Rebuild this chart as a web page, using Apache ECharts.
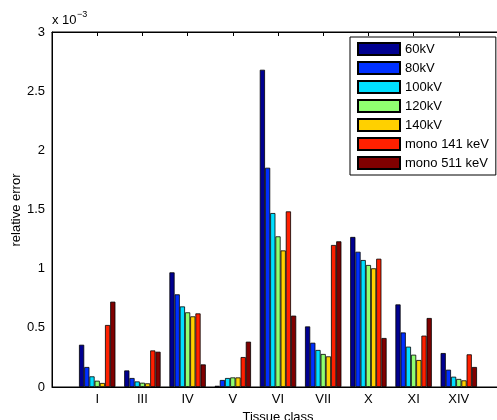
<!DOCTYPE html>
<html>
<head>
<meta charset="utf-8">
<script src="https://cdn.jsdelivr.net/npm/echarts@6/dist/echarts.min.js"></script>
<style>
  html, body { margin: 0; padding: 0; background: #fff; }
  #chart { width: 497px; height: 420px; }
</style>
</head>
<body>
<div id="chart"></div>
<script>
// tissue classes on the x axis
const categories = ['I', 'III', 'IV', 'V', 'VI', 'VII', 'X', 'XI', 'XIV'];

// relative error, in units of 1e-3
const kv60    = [0.357, 0.140, 0.969, 0.010, 2.681, 0.512, 1.268, 0.698, 0.287];
const kv80    = [0.169, 0.076, 0.783, 0.059, 1.853, 0.374, 1.143, 0.461, 0.146];
const kv100   = [0.090, 0.047, 0.681, 0.076, 1.470, 0.313, 1.073, 0.341, 0.087];
const kv120   = [0.053, 0.036, 0.631, 0.081, 1.273, 0.279, 1.031, 0.273, 0.068];
const kv140   = [0.034, 0.031, 0.597, 0.081, 1.154, 0.259, 1.003, 0.228, 0.056];
const mono141 = [0.524, 0.309, 0.622, 0.253, 1.484, 1.200, 1.084, 0.434, 0.276];
const mono511 = [0.721, 0.298, 0.191, 0.383, 0.603, 1.231, 0.414, 0.583, 0.169];

const seriesNames = ['60kV', '80kV', '100kV', '120kV', '140kV', 'mono 141 keV', 'mono 511 keV'];
const seriesData = [kv60, kv80, kv100, kv120, kv140, mono141, mono511];
const colors = ['#000090', '#0030ff', '#00dfff', '#90ff70', '#ffd000', '#ff2000', '#800000'];

const yTicks = [0, 0.5, 1, 1.5, 2, 2.5, 3];

const font = 'Liberation Sans, Arial, Helvetica, sans-serif';

// pad the axis with empty slots so the range runs 0..10 like the original
const axisData = [''].concat(categories, ['']);

var chart = echarts.init(document.getElementById('chart'));

var series = [];
for (var i = 0; i < seriesNames.length; i++) {
  series.push({
    name: seriesNames[i],
    type: 'bar',
    barWidth: 5.2,
    barGap: '0%',
    data: [null].concat(seriesData[i], [null]),
    itemStyle: { color: colors[i], borderColor: '#000', borderWidth: 0.8 }
  });
}

var tickFilter = function (idx) { return idx > 0 && idx < axisData.length - 1; };

var option = {
  animation: false,
  textStyle: { fontFamily: font },
  grid: {
    left: 52, top: 32, width: 452, height: 355,
    outerBoundsMode: 'none',
    containLabel: false,
    show: true, borderColor: '#000', borderWidth: 1, backgroundColor: '#fff'
  },
  legend: {
    orient: 'vertical',
    left: 350, top: 37,
    padding: [5, 7, 5, 7],
    itemWidth: 42, itemHeight: 12, itemGap: 5,
    borderColor: '#000', borderWidth: 1, backgroundColor: '#fff',
    selectedMode: false,
    icon: 'rect',
    textStyle: { fontSize: 13, color: '#000', fontFamily: font },
    data: seriesNames
  },
  xAxis: [{
    type: 'category',
    data: axisData,
    boundaryGap: false,
    name: 'Tissue class',
    nameLocation: 'middle',
    nameGap: 24,
    nameTextStyle: { fontSize: 13, color: '#000' },
    axisLine: { lineStyle: { color: '#000' } },
    axisTick: { inside: true, length: 4, interval: tickFilter, lineStyle: { color: '#000' } },
    axisLabel: { interval: 0, margin: 6, fontSize: 13, color: '#000' },
    splitLine: { show: false }
  }, {
    type: 'category',
    position: 'top',
    data: axisData,
    boundaryGap: false,
    axisLine: { lineStyle: { color: '#000' } },
    axisTick: { inside: true, length: 4, interval: tickFilter, lineStyle: { color: '#000' } },
    axisLabel: { show: false },
    splitLine: { show: false }
  }],
  yAxis: {
    type: 'value',
    min: yTicks[0], max: yTicks[yTicks.length - 1], interval: 0.5,
    axisLine: { show: true, lineStyle: { color: '#000' } },
    axisTick: { inside: true, length: 4, lineStyle: { color: '#000' } },
    axisLabel: { margin: 7, fontSize: 13, color: '#000' },
    splitLine: { show: false }
  },
  graphic: [
    { type: 'text', left: 52, top: 14, style: { text: 'x 10', font: '13px ' + font, fill: '#000' } },
    { type: 'text', left: 77, top: 10, style: { text: '\u22123', font: '9px ' + font, fill: '#000' } },
    // y axis title
    {
      type: 'text', x: 16, y: 210, rotation: Math.PI / 2,
      style: { text: 'relative error', font: '13px ' + font, fill: '#000', align: 'center', verticalAlign: 'middle' }
    }
  ],
  series: series
};

chart.setOption(option);
</script>
</body>
</html>
